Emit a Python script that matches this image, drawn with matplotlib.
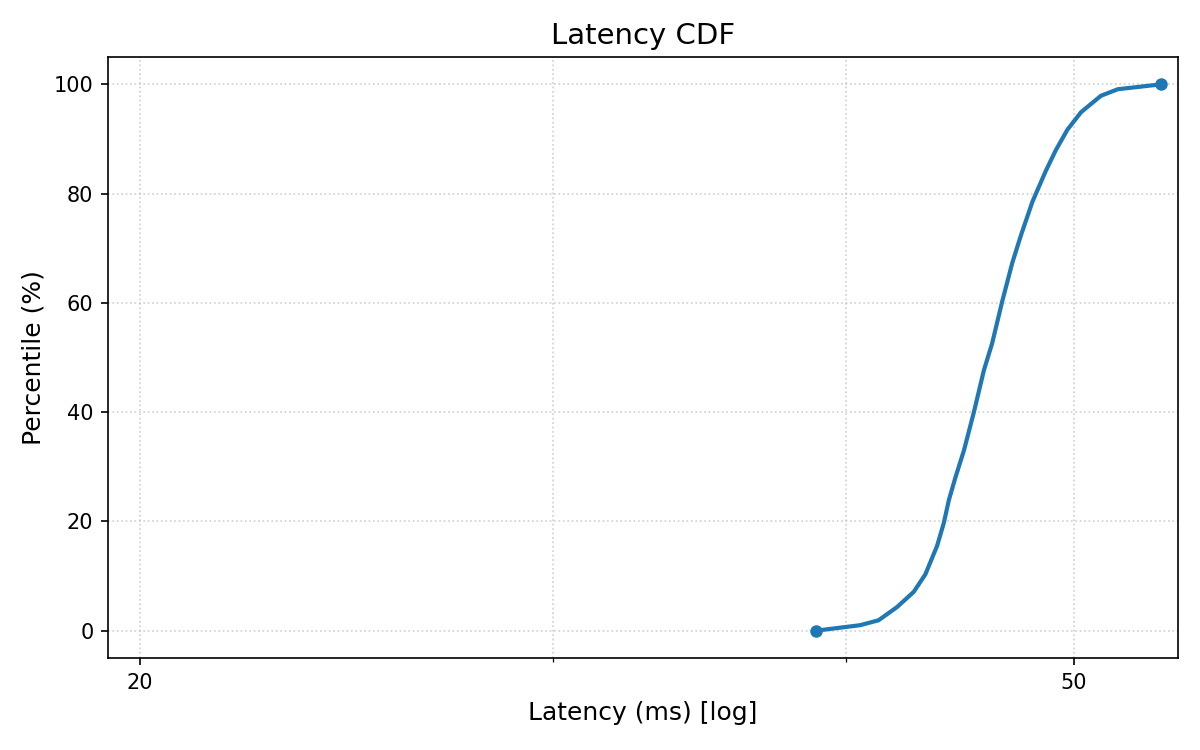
import matplotlib
matplotlib.use("Agg")
import matplotlib.pyplot as plt
from matplotlib.ticker import FixedLocator, NullFormatter, ScalarFormatter

latency_ms = [38.84, 40.55, 41.29, 42.04, 42.74, 43.23, 43.73, 44.02, 44.24, 44.53,
              44.90, 45.34, 45.79, 46.16, 46.62, 47.08, 47.47, 48.02, 48.65, 49.13,
              49.70, 50.37, 51.36, 52.22, 54.50]
percentile = [0.0, 1.0, 1.9, 4.3, 7.1, 10.3, 15.5, 19.7, 23.9, 28.1,
              33.0, 40.0, 47.7, 52.6, 60.3, 67.3, 72.2, 78.5, 84.1, 87.9,
              91.7, 94.9, 97.9, 99.1, 100.0]
major_ticks = [20, 50]
minor_ticks = [30, 40]
y_ticks = [0, 20, 40, 60, 80, 100]

fig, ax = plt.subplots(figsize=(8, 5), dpi=150)
ax.plot(latency_ms, percentile, color="#1f77b4", linewidth=2,
        marker="o", markersize=5, markevery=[0, len(latency_ms) - 1])
ax.set_xscale("log")
ax.set_xlim(19.38, 55.4)
ax.set_ylim(-5, 105)
ax.xaxis.set_major_locator(FixedLocator(major_ticks))
ax.xaxis.set_major_formatter(ScalarFormatter())
ax.xaxis.set_minor_locator(FixedLocator(minor_ticks))
ax.xaxis.set_minor_formatter(NullFormatter())
ax.set_yticks(y_ticks)
ax.grid(True, which="both", linestyle=":", color="#b0b0b0", alpha=0.6)
ax.set_title("Latency CDF", fontsize=14)
ax.set_xlabel("Latency (ms) [log]", fontsize=12)
ax.set_ylabel("Percentile (%)", fontsize=12)
fig.subplots_adjust(left=0.09, right=0.9817, top=0.924, bottom=0.1227)
fig.savefig("out.png")
